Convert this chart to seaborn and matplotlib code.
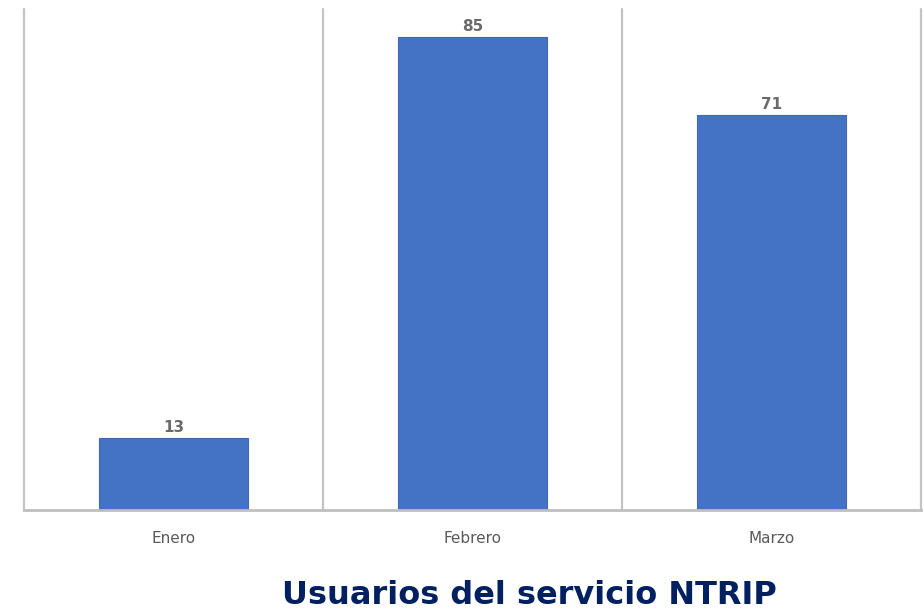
import matplotlib
matplotlib.use("Agg")
import matplotlib.pyplot as plt
import seaborn as sns
import pandas as pd

meses = ["Enero", "Febrero", "Marzo"]
usuarios = [13, 85, 71]
titulo = "Usuarios del servicio NTRIP"

sns.set_theme(style="white")
plt.rcParams['font.family'] = ['DejaVu Sans']

df = pd.DataFrame({"mes": meses, "usuarios": usuarios})

fig = plt.figure(figsize=(9.24, 6.13), dpi=100)
ax = fig.add_axes([24/924, (613-510)/613, (921-24)/924, (510-9)/613])

sns.barplot(data=df, x="mes", y="usuarios", color="#4472C4", width=0.5,
            edgecolor="#3f68b5", linewidth=0.8, saturation=1, ax=ax)

ax.set_xlim(-0.5, 2.5)
ax.set_ylim(0, 90)
for xv in [-0.5, 0.5, 1.5, 2.5]:
    ax.axvline(xv, color="#c4c4c4", lw=1.6, zorder=0, clip_on=False)

for s in ["top", "right", "left"]:
    ax.spines[s].set_visible(False)
ax.spines["bottom"].set_color("#bfbfbf")
ax.spines["bottom"].set_linewidth(2)

ax.set_yticks([])
ax.set_xlabel("")
ax.set_ylabel("")
ax.tick_params(axis="x", length=0, pad=15, labelsize=11, labelcolor="#595959")

for c in ax.containers:
    ax.bar_label(c, labels=[str(v) for v in usuarios], padding=2,
                 fontsize=11, fontweight="bold", color="#6a6a6a")

fig.text(529/924, 1-(596/613), titulo, ha="center", va="center",
         fontsize=23, fontweight="bold", color="#002060")

fig.savefig("out.png", dpi=100)
